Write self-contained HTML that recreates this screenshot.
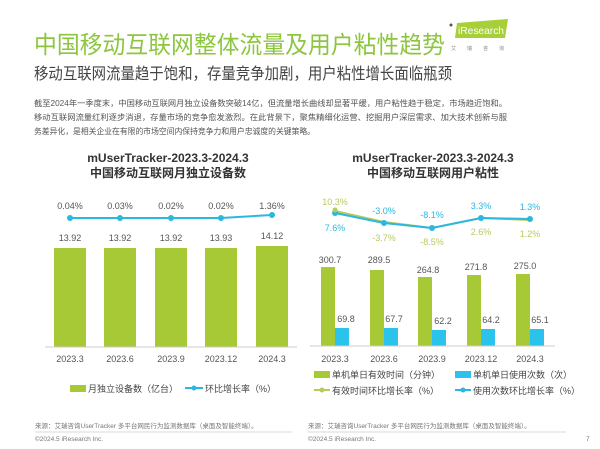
<!DOCTYPE html>
<html><head><meta charset="utf-8"><style>
body{margin:0;background:#fff;}
svg{display:block;font-family:"Liberation Sans","Noto Sans CJK SC",sans-serif;}
</style></head><body>
<svg width="600" height="449" viewBox="0 0 600 449" xmlns="http://www.w3.org/2000/svg">
<rect width="600" height="449" fill="#fff"/>
<!-- header -->
<text x="34" y="53" font-size="24" fill="#8cc63e" textLength="411" lengthAdjust="spacingAndGlyphs">中国移动互联网整体流量及用户粘性趋势</text>
<polygon points="457,23 508,19 505,38 455,38" fill="#a6cf38"/>
<text x="458" y="34" font-size="10.5" fill="#fff" textLength="46" lengthAdjust="spacingAndGlyphs">iResearch</text>
<circle cx="451" cy="25" r="1.5" fill="#555"/>
<text x="451" y="50" font-size="5" fill="#888" letter-spacing="11">艾瑞咨询</text>
<text x="34" y="79" font-size="16" fill="#444" textLength="418" lengthAdjust="spacingAndGlyphs">移动互联网流量趋于饱和，存量竞争加剧，用户粘性增长面临瓶颈</text>
<g font-size="8.2" fill="#555">
<text x="34" y="106" textLength="473" lengthAdjust="spacingAndGlyphs">截至2024年一季度末，中国移动互联网月独立设备数突破14亿，但流量增长曲线却显著平缓，用户粘性趋于稳定，市场趋近饱和。</text>
<text x="34" y="120" textLength="473" lengthAdjust="spacingAndGlyphs">移动互联网流量红利逐步消退，存量市场的竞争愈发激烈。在此背景下，聚焦精细化运营、挖掘用户深层需求、加大技术创新与服</text>
<text x="34" y="134" textLength="281" lengthAdjust="spacingAndGlyphs">务差异化，是相关企业在有限的市场空间内保持竞争力和用户忠诚度的关键策略。</text>
</g>
<!-- left chart -->
<g font-weight="bold" font-size="12" fill="#333" text-anchor="middle">
<text x="168" y="162">mUserTracker-2023.3-2024.3</text>
<text x="168" y="177">中国移动互联网月独立设备数</text>
</g>
<g fill="#a6c935">
<rect x="54" y="248" width="32" height="99"/><rect x="104" y="248" width="32" height="99"/>
<rect x="155" y="248" width="32" height="99"/><rect x="205" y="248" width="32" height="99"/>
<rect x="256" y="246" width="32" height="101"/>
</g>
<line x1="45" y1="347" x2="297" y2="347" stroke="#ccc"/>
<polyline points="70,218 120,218 171,218 221,218 272,215" fill="none" stroke="#2bb8e0" stroke-width="2"/>
<g fill="#2bb8e0"><circle cx="70" cy="218" r="3"/><circle cx="120" cy="218" r="3"/><circle cx="171" cy="218" r="3"/><circle cx="221" cy="218" r="3"/><circle cx="272" cy="215" r="3"/></g>
<g font-size="9" fill="#555" text-anchor="middle">
<text x="70" y="209">0.04%</text><text x="120" y="209">0.03%</text><text x="171" y="209">0.02%</text><text x="221" y="209">0.02%</text><text x="272" y="209">1.36%</text>
<text x="70" y="241">13.92</text><text x="120" y="241">13.92</text><text x="171" y="241">13.92</text><text x="221" y="241">13.93</text><text x="272" y="239">14.12</text>
<text x="70" y="362">2023.3</text><text x="120" y="362">2023.6</text><text x="171" y="362">2023.9</text><text x="221" y="362">2023.12</text><text x="272" y="362">2024.3</text>
</g>
<rect x="70" y="385" width="16" height="7" fill="#a6c935"/>
<text x="88" y="392" font-size="9" fill="#444">月独立设备数（亿台）</text>
<line x1="185" y1="388" x2="203" y2="388" stroke="#2bb8e0" stroke-width="2"/><circle cx="194" cy="388" r="2.5" fill="#2bb8e0"/>
<text x="205" y="392" font-size="9" fill="#444">环比增长率（%）</text>
<!-- right chart -->
<g font-weight="bold" font-size="12" fill="#333" text-anchor="middle">
<text x="433" y="162">mUserTracker-2023.3-2024.3</text>
<text x="433" y="177">中国移动互联网用户粘性</text>
</g>
<g fill="#a6c935">
<rect x="321" y="267" width="14" height="79"/><rect x="370" y="270" width="14" height="76"/>
<rect x="418" y="277" width="14" height="69"/><rect x="467" y="275" width="14" height="71"/>
<rect x="516" y="274" width="14" height="72"/>
</g>
<g fill="#2bc3ec">
<rect x="335" y="328" width="14" height="18"/><rect x="384" y="328" width="14" height="18"/>
<rect x="432" y="330" width="14" height="16"/><rect x="481" y="329" width="14" height="17"/>
<rect x="530" y="329" width="14" height="17"/>
</g>
<line x1="310" y1="346" x2="555" y2="346" stroke="#ccc"/>
<polyline points="335,211 384,222 432,228 481,218 530,220" fill="none" stroke="#b5cc5a" stroke-width="2"/>
<polyline points="335,213 384,223 432,228 481,218 530,219" fill="none" stroke="#2bb8e0" stroke-width="2"/>
<g fill="#2bb8e0"><circle cx="335" cy="213" r="3"/><circle cx="384" cy="223" r="3"/><circle cx="432" cy="228" r="3"/><circle cx="481" cy="218" r="3"/><circle cx="530" cy="219" r="3"/></g>
<circle cx="335" cy="210" r="2.5" fill="#b5cc5a"/>
<g font-size="9" text-anchor="middle">
<text x="335" y="205" fill="#b5cc5a">10.3%</text>
<text x="335" y="231" fill="#2bb8e0">7.6%</text>
<text x="384" y="214" fill="#2bb8e0">-3.0%</text>
<text x="384" y="241" fill="#b5cc5a">-3.7%</text>
<text x="432" y="218" fill="#2bb8e0">-8.1%</text>
<text x="432" y="245" fill="#b5cc5a">-8.5%</text>
<text x="481" y="209" fill="#2bb8e0">3.3%</text>
<text x="481" y="235" fill="#b5cc5a">2.6%</text>
<text x="530" y="210" fill="#2bb8e0">1.3%</text>
<text x="530" y="237" fill="#b5cc5a">1.2%</text>
</g>
<g font-size="9" fill="#555" text-anchor="middle">
<text x="330" y="263">300.7</text><text x="379" y="263">289.5</text><text x="428" y="273">264.8</text><text x="476" y="270">271.8</text><text x="525" y="269">275.0</text>
<text x="346" y="322">69.8</text><text x="394" y="322">67.7</text><text x="443" y="324">62.2</text><text x="491" y="323">64.2</text><text x="540" y="323">65.1</text>
<text x="335" y="362">2023.3</text><text x="384" y="362">2023.6</text><text x="432" y="362">2023.9</text><text x="481" y="362">2023.12</text><text x="530" y="362">2024.3</text>
</g>
<rect x="314" y="371" width="16" height="7" fill="#a6c935"/>
<text x="332" y="378" font-size="9" fill="#444">单机单日有效时间（分钟）</text>
<rect x="455" y="371" width="16" height="7" fill="#2bc3ec"/>
<text x="473" y="378" font-size="9" fill="#444">单机单日使用次数（次）</text>
<line x1="314" y1="390" x2="330" y2="390" stroke="#b5cc5a" stroke-width="2"/><circle cx="322" cy="390" r="2.5" fill="#b5cc5a"/>
<text x="332" y="394" font-size="9" fill="#444">有效时间环比增长率（%）</text>
<line x1="455" y1="390" x2="471" y2="390" stroke="#2bb8e0" stroke-width="2"/><circle cx="463" cy="390" r="2.5" fill="#2bb8e0"/>
<text x="473" y="394" font-size="9" fill="#444">使用次数环比增长率（%）</text>
<!-- footer -->
<g font-size="6.5" fill="#777">
<text x="35" y="428">来源：艾瑞咨询UserTracker 多平台网民行为监测数据库（桌面及智能终端）。</text>
<text x="308" y="428">来源：艾瑞咨询UserTracker 多平台网民行为监测数据库（桌面及智能终端）。</text>
<text x="35" y="441">©2024.5 iResearch Inc.</text>
<text x="308" y="441">©2024.5 iResearch Inc.</text>
<text x="586" y="441">7</text>
</g>
<line x1="35" y1="432" x2="292" y2="432" stroke="#ccc" stroke-width="0.7"/>
<line x1="308" y1="432" x2="566" y2="432" stroke="#ccc" stroke-width="0.7"/>
</svg>
</body></html>
